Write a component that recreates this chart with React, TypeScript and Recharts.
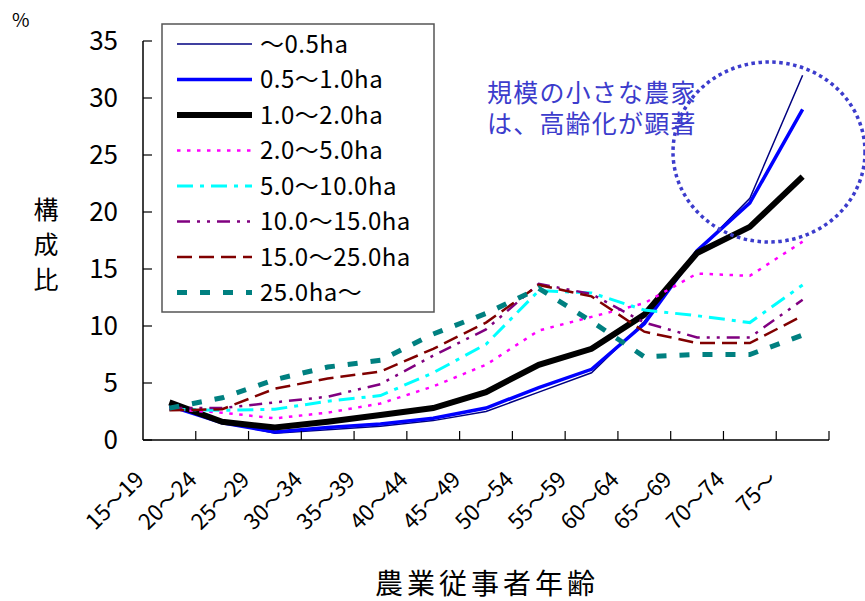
import React from "react";
import { LineChart, Line, XAxis, YAxis } from "recharts";

// 農業従事者の年齢別構成比（経営耕地規模別）
const ages = ["15〜19", "20〜24", "25〜29", "30〜34", "35〜39", "40〜44", "45〜49", "50〜54", "55〜59", "60〜64", "65〜69", "70〜74", "75〜"];

const under05 = [3.1, 1.6, 0.6, 0.9, 1.2, 1.7, 2.5, 4.2, 5.9, 10.4, 16.5, 21.2, 32.0];
const from05to1 = [3.0, 1.5, 0.7, 1.1, 1.4, 1.9, 2.8, 4.6, 6.2, 10.2, 16.6, 20.8, 29.0];
const from1to2 = [3.3, 1.6, 1.1, 1.6, 2.2, 2.8, 4.2, 6.6, 8.0, 11.0, 16.4, 18.7, 23.1];
const from2to5 = [2.7, 2.4, 1.9, 2.4, 3.2, 4.7, 6.6, 9.6, 10.8, 12.0, 14.6, 14.4, 17.4];
const from5to10 = [2.7, 2.6, 2.7, 3.4, 3.9, 5.9, 8.4, 13.1, 12.9, 11.4, 10.9, 10.3, 13.6];
const from10to15 = [2.8, 2.8, 3.3, 3.8, 4.9, 7.4, 9.7, 13.7, 12.8, 10.3, 9.0, 9.0, 12.3];
const from15to25 = [2.6, 2.7, 4.5, 5.4, 6.0, 8.0, 10.3, 13.6, 12.6, 9.5, 8.5, 8.5, 10.9];
const over25 = [2.8, 3.7, 5.3, 6.4, 7.0, 9.3, 11.1, 13.3, 10.4, 7.3, 7.5, 7.5, 9.2];

const seriesNames = ["〜0.5ha", "0.5〜1.0ha", "1.0〜2.0ha", "2.0〜5.0ha", "5.0〜10.0ha", "10.0〜15.0ha", "15.0〜25.0ha", "25.0ha〜"];
const seriesValues = [under05, from05to1, from1to2, from2to5, from5to10, from10to15, from15to25, over25];

const yTicks = [0, 5, 10, 15, 20, 25, 30, 35];

const styles = [
  { color: "#000080", width: 1.5, dash: undefined },
  { color: "#0000ff", width: 3.5, dash: undefined },
  { color: "#000000", width: 6, dash: undefined },
  { color: "#ff00ff", width: 2.5, dash: "3.5 6.5" },
  { color: "#00ffff", width: 3, dash: "16 7 4 7" },
  { color: "#800080", width: 2.5, dash: "13 7 3 7 3 7" },
  { color: "#800000", width: 2.5, dash: "15 7" },
  { color: "#008080", width: 5, dash: "10 13" },
];

const FONT = "'Noto Sans CJK JP', 'Noto Sans', sans-serif";
const W = 865;
const H = 601;
const PLOT_LEFT = 143;
const PLOT_RIGHT = 829;
const PLOT_TOP = 41;
const PLOT_BOTTOM = 440;
const BAND = (PLOT_RIGHT - PLOT_LEFT) / ages.length;

const rows = ages.map((age, i) => {
  const row: any = { age };
  seriesValues.forEach((vals, k) => {
    row["s" + k] = vals[i];
  });
  return row;
});

const AgeTick = (props: any) => {
  const { x, payload } = props;
  const bx = x + BAND / 2;
  const tx = x - 24;
  const ty = PLOT_BOTTOM + 41;
  return (
    <g>
      <line x1={bx} y1={PLOT_BOTTOM} x2={bx} y2={PLOT_BOTTOM - 9} stroke="#000" strokeWidth={1.2} />
      <text x={tx} y={ty} transform={`rotate(-45 ${tx} ${ty})`} textAnchor="end" fontSize={22} fill="#000" fontFamily={FONT}>
        {payload.value}
      </text>
    </g>
  );
};

const ValueTick = (props: any) => {
  const { y, payload } = props;
  return (
    <g>
      <line x1={PLOT_LEFT} y1={y} x2={PLOT_LEFT + 9} y2={y} stroke="#000" strokeWidth={1.2} />
      <text x={PLOT_LEFT - 25} y={y} dy="0.36em" textAnchor="end" fontSize={26} fill="#000" fontFamily={FONT}>
        {payload.value}
      </text>
    </g>
  );
};

export default function App() {
  const rowY = (i: number) => 44 + i * 35.5;
  return (
    <div style={{ position: "absolute", left: 0, top: 0, width: W, height: H, background: "#fff", fontFamily: FONT }}>
      <LineChart width={W} height={H} data={rows} margin={{ top: PLOT_TOP, right: W - PLOT_RIGHT, bottom: 0, left: 0 }}>
        <XAxis
          dataKey="age"
          height={H - PLOT_BOTTOM}
          interval={0}
          padding={{ left: BAND / 2, right: BAND / 2 }}
          axisLine={{ stroke: "#000", strokeWidth: 1.5 }}
          tickLine={false}
          tickSize={0}
          tick={AgeTick}
        />
        <XAxis
          xAxisId="top"
          orientation="top"
          dataKey="age"
          height={0}
          padding={{ left: BAND / 2, right: BAND / 2 }}
          axisLine={{ stroke: "#000", strokeWidth: 1.5 }}
          tick={false}
          tickLine={false}
        />
        <YAxis
          width={PLOT_LEFT}
          domain={[0, 35]}
          ticks={yTicks}
          interval={0}
          axisLine={{ stroke: "#000", strokeWidth: 1.5 }}
          tickLine={false}
          tickSize={0}
          tick={ValueTick}
        />
        <YAxis
          yAxisId="right"
          orientation="right"
          width={0}
          domain={[0, 35]}
          axisLine={{ stroke: "#000", strokeWidth: 1.5 }}
          tick={false}
          tickLine={false}
        />
        {seriesNames.map((name, k) => (
          <Line
            key={name}
            name={name}
            dataKey={"s" + k}
            stroke={styles[k].color}
            strokeWidth={styles[k].width}
            strokeDasharray={styles[k].dash}
            strokeLinejoin="miter"
            dot={false}
            activeDot={false}
            isAnimationActive={false}
          />
        ))}
      </LineChart>

      <svg width={W} height={H} style={{ position: "absolute", left: 0, top: 0, pointerEvents: "none" }}>
        {/* legend */}
        <rect x={162} y={24} width={272} height={288} fill="#fff" stroke="#555" strokeWidth={1.5} />
        {seriesNames.map((name, k) => (
          <g key={name}>
            <line
              x1={177}
              y1={rowY(k)}
              x2={252}
              y2={rowY(k)}
              stroke={styles[k].color}
              strokeWidth={styles[k].width}
              strokeDasharray={styles[k].dash}
            />
            <text x={260} y={rowY(k)} dy="0.36em" fontSize={24} letterSpacing={0.5} fill="#000" fontFamily={FONT}>
              {name}
            </text>
          </g>
        ))}

        {/* annotation */}
        <ellipse cx={769} cy={152} rx={96} ry={90} fill="none" stroke="#3c3ccc" strokeWidth={3.5} strokeDasharray="3.5 3.5" />
        <text x={487} y={102} fontSize={25} letterSpacing={1.2} fill="#3c3ccc" fontFamily={FONT}>規模の小さな農家</text>
        <text x={487} y={133} fontSize={25} letterSpacing={1.2} fill="#3c3ccc" fontFamily={FONT}>は、高齢化が顕著</text>

        {/* axis titles */}
        <text x={12} y={27} fontSize={19} fill="#000" fontFamily={FONT}>%</text>
        {["構", "成", "比"].map((c, i) => (
          <text key={c} x={46} y={210 + i * 35} dy="0.36em" textAnchor="middle" fontSize={25} fill="#000" fontFamily={FONT}>
            {c}
          </text>
        ))}
        <text x={487} y={594} textAnchor="middle" fontSize={28} letterSpacing={4} fill="#000" fontFamily={FONT}>農業従事者年齢</text>
      </svg>
    </div>
  );
}
